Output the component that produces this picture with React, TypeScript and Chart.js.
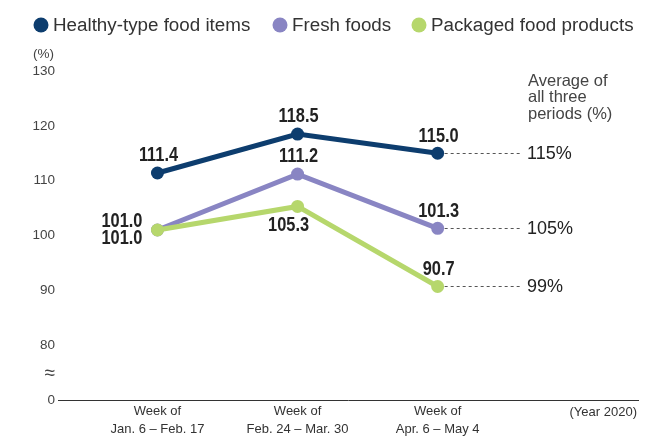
import React, { useEffect, useRef } from "react";
import { Chart, registerables } from "chart.js";

Chart.register(...registerables);

const categories: string[][] = [
  ["Week of", "Jan. 6 – Feb. 17"],
  ["Week of", "Feb. 24 – Mar. 30"],
  ["Week of", "Apr. 6 – May 4"],
];
const seriesNames = ["Healthy-type food items", "Fresh foods", "Packaged food products"];
const healthy = [111.4, 118.5, 115.0];
const fresh = [101.0, 111.2, 101.3];
const packaged = [101.0, 105.3, 90.7];
const averages = [115, 105, 99];
const averageTitle = ["Average of", "all three", "periods (%)"];
const yTicks = [70, 80, 90, 100, 110, 120, 130];
const yTickLabels = ["0", "80", "90", "100", "110", "120", "130"];
const yUnit = "(%)";
const yearNote = "(Year 2020)";

const colors = ["#0d3d6e", "#8985c3", "#b6d76c"];
// label placement per series / point
const placements = [
  ["above", "above", "above"],
  ["leftAbove", "above", "above"],
  ["leftBelow", "belowLeft", "above"],
];

const SANS = "'Liberation Sans', Arial, sans-serif";

const overlay = {
  id: "overlay",
  beforeDatasetsDraw(chart: any) {
    const ctx = chart.ctx;
    const xs = chart.scales.x;
    const ys = chart.scales.y;
    const series = [healthy, fresh, packaged];
    ctx.save();
    ctx.strokeStyle = "#555";
    ctx.lineWidth = 1;
    ctx.setLineDash([3, 3]);
    series.forEach((s) => {
      const i = s.length - 1;
      const x = xs.getPixelForValue(i);
      const y = Math.round(ys.getPixelForValue(s[i])) + 0.5;
      ctx.beginPath();
      ctx.moveTo(x + 7, y);
      ctx.lineTo(520, y);
      ctx.stroke();
    });
    ctx.restore();
  },
  afterDraw(chart: any) {
    const ctx = chart.ctx;
    const xs = chart.scales.x;
    const ys = chart.scales.y;
    const series = [healthy, fresh, packaged];
    ctx.save();
    // legend
    const legendX = [41, 280, 419];
    ctx.font = `18.8px ${SANS}`;
    ctx.textBaseline = "middle";
    ctx.textAlign = "left";
    seriesNames.forEach((n, i) => {
      ctx.fillStyle = colors[i];
      ctx.beginPath();
      ctx.arc(legendX[i], 25, 7.5, 0, Math.PI * 2);
      ctx.fill();
      ctx.fillStyle = "#333";
      ctx.fillText(n, legendX[i] + 12, 26);
    });
    // unit
    ctx.font = `13.5px ${SANS}`;
    ctx.fillStyle = "#444";
    ctx.fillText(yUnit, 33, 54);
    // axis break mark
    ctx.textAlign = "right";
    ctx.font = `19px ${SANS}`;
    ctx.fillText("≈", 55, 374);
    // year note
    ctx.font = `13px ${SANS}`;
    ctx.fillStyle = "#333";
    ctx.fillText(yearNote, 637, 412);
    // average title
    ctx.textAlign = "left";
    ctx.font = `16.5px ${SANS}`;
    ctx.fillStyle = "#444";
    averageTitle.forEach((t, i) => ctx.fillText(t, 528, 81 + i * 16.5));
    // averages
    ctx.font = `18px ${SANS}`;
    ctx.fillStyle = "#222";
    series.forEach((s, k) => {
      const i = s.length - 1;
      const y = ys.getPixelForValue(s[i]);
      ctx.fillText(averages[k] + "%", 527, y + 1);
    });
    // data labels (condensed bold)
    ctx.font = `bold 19.5px ${SANS}`;
    ctx.fillStyle = "#222";
    const draw = (t: string, x: number, y: number, align: string) => {
      ctx.save();
      ctx.translate(x, y);
      ctx.scale(0.84, 1);
      ctx.textAlign = align;
      ctx.fillText(t, 0, 0);
      ctx.restore();
    };
    series.forEach((s, k) => {
      s.forEach((v, i) => {
        const x = xs.getPixelForValue(i);
        const y = ys.getPixelForValue(v);
        const p = placements[k][i];
        const t = v.toFixed(1);
        if (p === "above") draw(t, x + 1, y - 17, "center");
        else if (p === "belowLeft") draw(t, x - 9, y + 19, "center");
        else if (p === "leftAbove") draw(t, x - 15, y - 8, "right");
        else if (p === "leftBelow") draw(t, x - 15, y + 9, "right");
      });
    });
    ctx.restore();
  },
};

export default function App() {
  const ref = useRef<HTMLCanvasElement | null>(null);
  useEffect(() => {
    if (!ref.current) return;
    const mk = (label: string, data: number[], color: string, order: number) => ({
      label,
      data: data.map((y, i) => ({ x: i, y })),
      borderColor: color,
      backgroundColor: color,
      pointBackgroundColor: color,
      pointBorderWidth: 0,
      pointRadius: 6.5,
      borderWidth: 5,
      order,
    });
    const chart = new Chart(ref.current, {
      type: "line",
      data: {
        datasets: [
          mk(seriesNames[0], healthy, colors[0], 2),
          mk(seriesNames[1], fresh, colors[1], 1),
          mk(seriesNames[2], packaged, colors[2], 0),
        ],
      },
      options: {
        animation: false,
        responsive: true,
        maintainAspectRatio: false,
        layout: { padding: { top: 71, right: 34, left: 0, bottom: 0 } },
        plugins: { legend: { display: false }, tooltip: { enabled: false } },
        scales: {
          x: {
            type: "linear",
            min: -0.71,
            max: 3.43,
            grid: { display: false, drawTicks: false },
            border: { display: true, color: "#333", width: 1 },
            afterBuildTicks: (s: any) => {
              s.ticks = categories.map((_, i) => ({ value: i }));
            },
            afterFit: (s: any) => {
              s.height = 36;
            },
            ticks: {
              padding: 2,
              color: "#333",
              font: { family: SANS, size: 13, lineHeight: 1.4 },
              maxRotation: 0,
              autoSkip: false,
              callback: (v: any) => categories[v as number] ?? "",
            },
          },
          y: {
            min: 70,
            max: 130,
            grid: { display: false, drawTicks: false },
            border: { display: false },
            afterBuildTicks: (s: any) => {
              s.ticks = yTicks.map((v) => ({ value: v }));
            },
            afterFit: (s: any) => {
              s.width = 58;
            },
            ticks: {
              padding: 3,
              color: "#444",
              font: { family: SANS, size: 13.5 },
              callback: (v: any) => yTickLabels[yTicks.indexOf(v as number)] ?? "",
            },
          },
        },
      },
      plugins: [overlay],
    });
    return () => chart.destroy();
  }, []);
  return (
    <div style={{ position: "absolute", left: 0, top: 0, width: 672, height: 436, background: "#fff" }}>
      <canvas ref={ref} />
    </div>
  );
}
